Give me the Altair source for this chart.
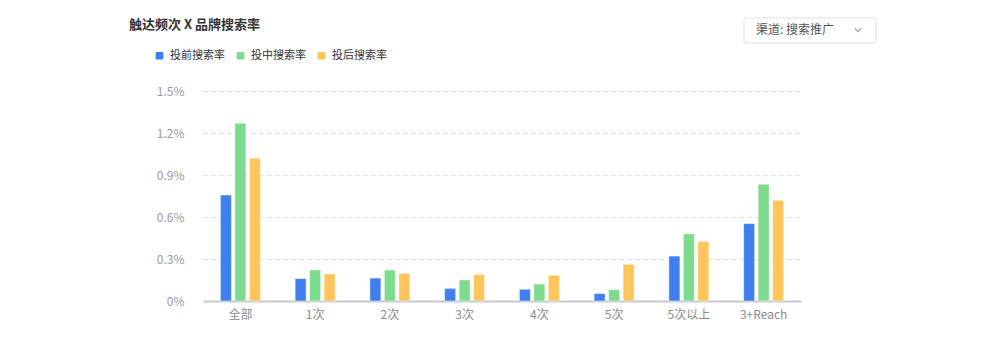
import altair as alt
import pandas as pd

categories = ["全部", "1次", "2次", "3次", "4次", "5次", "5次以上", "3+Reach"]
series = ["投前搜索率", "投中搜索率", "投后搜索率"]
before = [0.757, 0.160, 0.164, 0.090, 0.084, 0.053, 0.321, 0.553]
during = [1.270, 0.222, 0.221, 0.150, 0.121, 0.081, 0.480, 0.834]
after = [1.020, 0.192, 0.198, 0.190, 0.184, 0.262, 0.426, 0.719]
colors = ["#3F7FEF", "#7CDB8C", "#FDC55C"]
y_ticks = [0, 0.3, 0.6, 0.9, 1.2, 1.5]

rows = []
for i, c in enumerate(categories):
    for s, vals in zip(series, [before, during, after]):
        rows.append({"cat": c, "series": s, "value": vals[i] / 100})
df = pd.DataFrame(rows)

W, H = 598, 210
font = "Noto Sans CJK SC"
rounded_square = ("M-0.7,-1H0.7Q1,-1,1,-0.7V0.7Q1,1,0.7,1H-0.7Q-1,1,-1,0.7"
                  "V-0.7Q-1,-1,-0.7,-1Z")

bars = alt.Chart(df).mark_bar(stroke="white", strokeWidth=0.8, strokeOpacity=0.6).encode(
    x=alt.X("cat:N", sort=categories, title=None,
            scale=alt.Scale(paddingInner=0.465, paddingOuter=0.2325),
            axis=alt.Axis(labelAngle=0, labelColor="#888", labelFontSize=12, labelFont=font,
                          ticks=False, domainColor="#C4C8D0", domainWidth=2, labelPadding=8)),
    xOffset=alt.XOffset("series:N", sort=series,
                        scale=alt.Scale(paddingInner=0.24, paddingOuter=0)),
    y=alt.Y("value:Q", title=None,
            scale=alt.Scale(domain=[0, 0.015], nice=False),
            axis=alt.Axis(values=[v / 100 for v in y_ticks], format=".1~%", labelColor="#999",
                          labelFontSize=12, labelFont=font, ticks=False, domain=False,
                          gridDash=[4, 4], gridColor="#D9DCE1", labelPadding=19)),
    color=alt.Color("series:N", sort=series,
                    scale=alt.Scale(domain=series, range=colors),
                    legend=alt.Legend(orient="none", legendX=-49, legendY=-41, direction="horizontal",
                                      title=None, symbolType=rounded_square, symbolSize=60,
                                      symbolStrokeWidth=0, labelFontSize=11, labelFont=font,
                                      labelColor="#333", columnPadding=10, labelOffset=5)),
)

deco = pd.DataFrame({"k": [0]})
title = alt.Chart(deco).mark_text(text="触达频次 X 品牌搜索率", align="left", baseline="middle",
                                  fontSize=13, fontWeight="bold", font=font, color="#333").encode(
    x=alt.value(-74), y=alt.value(-66))
box = alt.Chart(deco).mark_rect(fill="white", stroke="#DCDFE6", strokeWidth=1, cornerRadius=2).encode(
    x=alt.value(541), x2=alt.value(673), y=alt.value(-73), y2=alt.value(-48))
box_text = alt.Chart(deco).mark_text(text="渠道: 搜索推广", align="left", baseline="middle",
                                     fontSize=12, font=font, color="#555").encode(
    x=alt.value(553), y=alt.value(-61))
chev = alt.Chart(deco).mark_point(shape="M-1,-0.5L0,0.5L1,-0.5", filled=False, color="#999",
                                  strokeWidth=1.2, size=40, opacity=1).encode(
    x=alt.value(655), y=alt.value(-61))

chart = alt.layer(bars, title, box, box_text, chev).properties(
    width=W, height=H,
    background="white",
    autosize=alt.AutoSizeParams(type="none"),
    padding={"left": 195, "top": 83, "right": 199, "bottom": 53},
).configure_view(strokeWidth=0, stroke=None)

chart.save("out.html", embed_options={"renderer": "svg", "actions": False})
